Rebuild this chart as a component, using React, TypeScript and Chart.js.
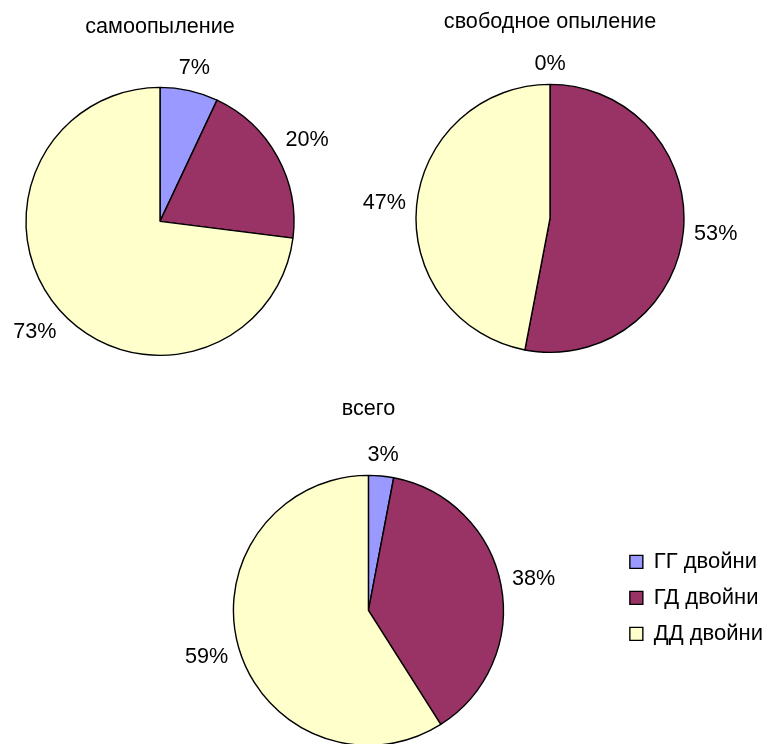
import React, { useEffect, useRef } from 'react';
import { Chart, registerables } from 'chart.js';

Chart.register(...registerables);

const categories = ['ГГ двойни', 'ГД двойни', 'ДД двойни'];
const selfPollinationValues = [7, 20, 73];
const openPollinationValues = [0, 53, 47];
const totalValues = [3, 38, 59];
const chartTitles = ['самоопыление', 'свободное опыление', 'всего'];

const sliceColors = ['#9999FF', '#993366', '#FFFFCC'];
const FONT = '"Liberation Sans", Arial, sans-serif';
const TEXT_SIZE = 21.6;

Chart.defaults.font.family = FONT;
Chart.defaults.color = '#000000';

const outsideLabels = {
  id: 'outsideLabels',
  afterDatasetsDraw(chart: any) {
    const ctx = chart.ctx;
    const meta = chart.getDatasetMeta(0);
    const values = chart.data.datasets[0].data as number[];
    ctx.save();
    ctx.font = `${TEXT_SIZE}px ${FONT}`;
    ctx.fillStyle = '#000';
    ctx.textAlign = 'center';
    ctx.textBaseline = 'middle';
    meta.data.forEach((arc: any, i: number) => {
      const { x, y, startAngle, endAngle, outerRadius } = arc.getProps(
        ['x', 'y', 'startAngle', 'endAngle', 'outerRadius'],
        true
      );
      const mid = (startAngle + endAngle) / 2;
      const ux = Math.cos(mid);
      const uy = Math.sin(mid);
      const text = `${values[i]}%`;
      const w = ctx.measureText(text).width;
      const h = 20;
      const dist = outerRadius + 10 + Math.abs(ux) * w / 2 + Math.abs(uy) * h / 2;
      ctx.fillText(text, x + ux * dist, y + uy * dist);
    });
    ctx.restore();
  },
};

type PieProps = {
  values: number[];
  title: string;
  left: number;
  top: number;
  width: number;
  height: number;
  radius: number;
  padding: { left: number; right: number; top: number; bottom: number };
  titlePadding: { top: number; bottom: number };
  showLegend?: boolean;
};

function PieChart(props: PieProps) {
  const ref = useRef<HTMLCanvasElement | null>(null);
  useEffect(() => {
    if (!ref.current) return;
    const chart = new Chart(ref.current, {
      type: 'pie',
      data: {
        labels: categories,
        datasets: [
          {
            data: props.values,
            backgroundColor: sliceColors,
            borderColor: '#000000',
            borderWidth: 1.4,
            clip: false as any,
          },
        ],
      },
      options: {
        responsive: false,
        animation: false,
        radius: props.radius,
        layout: { padding: props.padding },
        plugins: {
          tooltip: { enabled: false },
          title: {
            display: true,
            text: props.title,
            fullSize: false,
            color: '#000',
            font: { size: TEXT_SIZE, weight: 'normal', family: FONT, lineHeight: 1.2 },
            padding: props.titlePadding,
          },
          legend: props.showLegend
            ? {
                display: true,
                position: 'right',
                align: 'start',
                fullSize: false,
                title: {
                  display: true,
                  text: '',
                  font: { size: 21, lineHeight: 1.2 },
                  padding: { top: 35, bottom: 0 },
                },
                labels: {
                  boxWidth: 13,
                  boxHeight: 13,
                  padding: 14,
                  color: '#000',
                  font: { size: 22, family: FONT },
                },
              }
            : { display: false },
        },
      } as any,
      plugins: [outsideLabels],
    });
    return () => chart.destroy();
  }, []);
  return (
    <canvas
      ref={ref}
      width={props.width}
      height={props.height}
      style={{ position: 'absolute', left: props.left, top: props.top }}
    />
  );
}

export default function App() {
  return (
    <div
      style={{
        position: 'absolute',
        left: 0,
        top: 0,
        width: 763,
        height: 744,
        overflow: 'hidden',
        background: '#ffffff',
      }}
    >
      <PieChart
        values={selfPollinationValues}
        title={chartTitles[0]}
        left={0}
        top={0}
        width={330}
        height={380}
        radius={134}
        padding={{ left: 26, right: 36, top: 0, bottom: 25 }}
        titlePadding={{ top: 14.4, bottom: 47.4 }}
      />
      <PieChart
        values={openPollinationValues}
        title={chartTitles[1]}
        left={340}
        top={0}
        width={423}
        height={380}
        radius={134}
        padding={{ left: 76, right: 79, top: 0, bottom: 28 }}
        titlePadding={{ top: 9.4, bottom: 49.4 }}
      />
      <PieChart
        values={totalValues}
        title={chartTitles[2]}
        left={0}
        top={380}
        width={773}
        height={364}
        radius={135}
        padding={{ left: 121, right: 0, top: 0, bottom: 0 }}
        titlePadding={{ top: 16.4, bottom: 54.4 }}
        showLegend
      />
    </div>
  );
}
